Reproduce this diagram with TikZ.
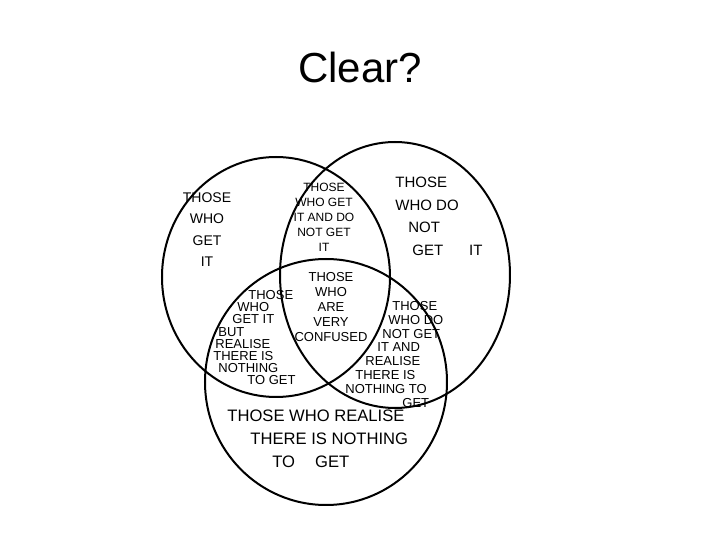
\documentclass[tikz,border=0pt]{standalone}
\usepackage{fontspec}
\setmainfont{Liberation Sans}
\begin{document}
\begin{tikzpicture}[x=0.5pt, y=-0.5pt,
        ring/.style={draw, line width=1pt},
        hand/.style={inner sep=0pt, align=center},
        handleft/.style={hand, align=left, anchor=north west}]
    \useasboundingbox (0,0) rectangle (720,540);

    % Title
    \node[font=\fontsize{21}{25}\selectfont] (title) at (360,67) {Clear?};

    % The three circles
    \draw[ring] (276,277) ellipse [x radius=57pt, y radius=60pt];
    \draw[ring] (395,275) ellipse [x radius=57.5pt, y radius=66.5pt];
    \draw[ring] (326,382) ellipse [x radius=60.5pt, y radius=61.5pt];

    % Left circle only
    \node[hand, anchor=north, font=\fontsize{7}{10.8}\selectfont] (getit) at (207,192)
        {THOSE\\WHO\\GET\\IT};

    % Right circle only
    \node[handleft, font=\fontsize{7.5}{11.2}\selectfont] (notgetit) at (395,177)
        {THOSE\\WHO DO\\\hspace*{6.5pt}NOT\\\hspace*{8.5pt}GET\hspace{13pt}IT};

    % Left and right
    \node[hand, anchor=north, font=\fontsize{6}{7.5}\selectfont] (getandnot) at (324,183)
        {THOSE\\WHO GET\\IT AND DO\\NOT GET\\IT};

    % All three
    \node[hand, anchor=north, font=\fontsize{6.5}{7.5}\selectfont] (confused) at (331,272)
        {THOSE\\WHO\\ARE\\VERY\\CONFUSED};

    % Left and bottom
    \node[handleft, font=\fontsize{6.5}{6.1}\selectfont] (getrealise) at (213,290)
        {\hspace*{17.5pt}THOSE\\\hspace*{12pt}WHO\\\hspace*{9.5pt}GET IT\\\hspace*{2.5pt}BUT\\
         \hspace*{1pt}REALISE\\THERE IS\\\hspace*{2.5pt}NOTHING\\\hspace*{17pt}TO GET};

    % Right and bottom
    \node[handleft, font=\fontsize{6.5}{6.9}\selectfont] (notgetrealise) at (345,301)
        {\hspace*{23.5pt}THOSE\\\hspace*{21.5pt}WHO DO\\\hspace*{18.5pt}NOT GET\\\hspace*{16pt}IT AND\\
         \hspace*{10pt}REALISE\\\hspace*{5pt}THERE IS\\NOTHING TO\\\hspace*{28.5pt}GET};

    % Bottom circle only
    \node[handleft, font=\fontsize{8.3}{11.5}\selectfont] (realise) at (227,410)
        {THOSE WHO REALISE\\\hspace*{11.5pt}THERE IS NOTHING\\\hspace*{22.5pt}TO\hspace{10pt}GET};
\end{tikzpicture}
\end{document}
